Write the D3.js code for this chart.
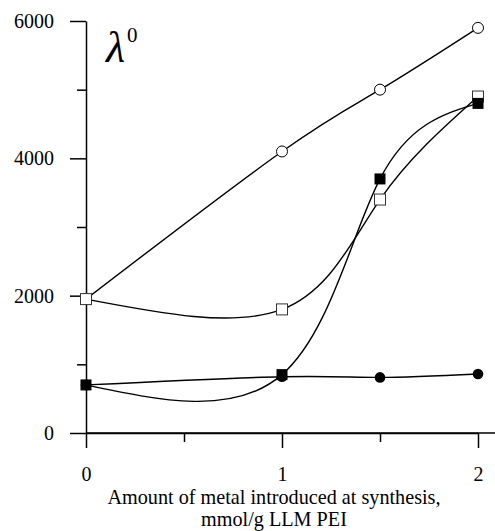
<!DOCTYPE html>
<html>
<head>
<meta charset="utf-8">
<script src="https://cdn.jsdelivr.net/npm/d3@7"></script>
<style>
  html, body { margin: 0; padding: 0; background: #fff; }
  svg { display: block; }
</style>
</head>
<body>
<div id="chart"></div>
<script>
// ---- data ----
const xValues = [0, 1, 1.5, 2];
const openCircles = [1950, 4100, 5000, 5900];
const openSquares = [1950, 1800, 3400, 4900];
const filledSquares = [700, 850, 3700, 4800];
const filledCircles = [700, 820, 810, 860];
const xMajorTicks = [0, 1, 2];
const xMinorTicks = [0.5, 1.5];
const yMajorTicks = [0, 2000, 4000, 6000];
const yMinorTicks = [1000, 3000, 5000];
const xTitle = ["Amount of metal introduced at synthesis,", "mmol/g LLM PEI"];

const W = 495, H = 531;
const FONT = "Liberation Serif";
const svg = d3.select("#chart").append("svg").attr("width", W).attr("height", H)
  .attr("font-family", FONT);

const x = d3.scaleLinear().domain([0, 2]).range([86, 478]);
const y = d3.scaleLinear().domain([0, 6000]).range([433, 21]);

const axisStroke = 1.5;

// y axis
const yAxis = svg.append("g").attr("transform", `translate(${x(0)},0)`)
  .call(d3.axisLeft(y).tickValues(yMajorTicks).tickSize(16).tickSizeOuter(0).tickPadding(16).tickFormat(d3.format("d")));
yAxis.append("g").call(d3.axisLeft(y).tickValues(yMinorTicks).tickSize(9).tickSizeOuter(0).tickFormat(""));
yAxis.selectAll("g g path.domain").remove();

// x axis
const xAxis = svg.append("g").attr("transform", `translate(0,${y(0)})`)
  .call(d3.axisBottom(x).tickValues(xMajorTicks).tickSize(15).tickSizeOuter(0).tickPadding(19).tickFormat(d3.format("d")));
xAxis.append("g").call(d3.axisBottom(x).tickValues(xMinorTicks).tickSize(9).tickSizeOuter(0).tickFormat(""));
xAxis.selectAll("g g path.domain").remove();
xAxis.append("line").attr("class", "ext").attr("x1", x(0)).attr("x2", W).attr("y1", 0).attr("y2", 0);

svg.selectAll("g").attr("font-family", FONT);
svg.selectAll(".domain, .tick line, line.ext").attr("stroke", "#000").attr("stroke-width", axisStroke);
svg.selectAll(".tick text").attr("font-family", FONT).attr("font-size", 20).attr("fill", "#000");

// axis title
xTitle.forEach((t, i) => {
  svg.append("text").attr("x", 274).attr("y", 503.8 + i * 22.6).attr("text-anchor", "middle")
    .attr("font-family", FONT).attr("font-size", 20.2).attr("fill", "#000").text(t);
});

// lambda label
const lab = svg.append("text").attr("x", 106).attr("y", 62)
  .attr("font-family", FONT).attr("fill", "#000");
lab.append("tspan").attr("font-style", "italic").attr("font-size", 44).text("λ");
lab.append("tspan").attr("dy", -20).attr("dx", 2).attr("font-size", 21).text("0");

// lines
const line = d3.line().x(d => x(d[0])).y(d => y(d[1])).curve(d3.curveNatural);
const series = [openCircles, openSquares, filledSquares, filledCircles];
series.forEach(vals => {
  svg.append("path").datum(xValues.map((xv, i) => [xv, vals[i]]))
    .attr("d", line).attr("fill", "none").attr("stroke", "#000").attr("stroke-width", 1.4);
});

// markers
const sq = 11;
svg.selectAll(".oc").data(xValues.map((xv, i) => [xv, openCircles[i]])).join("circle")
  .attr("cx", d => x(d[0])).attr("cy", d => y(d[1])).attr("r", 5.5)
  .attr("fill", "#fff").attr("stroke", "#000").attr("stroke-width", 1);
svg.selectAll(".os").data(xValues.map((xv, i) => [xv, openSquares[i]])).join("rect")
  .attr("x", d => x(d[0]) - sq / 2).attr("y", d => y(d[1]) - sq / 2).attr("width", sq).attr("height", sq)
  .attr("fill", "#fff").attr("stroke", "#333").attr("stroke-width", 1);
svg.selectAll(".fs").data(xValues.map((xv, i) => [xv, filledSquares[i]])).join("rect")
  .attr("x", d => x(d[0]) - sq / 2).attr("y", d => y(d[1]) - sq / 2).attr("width", sq).attr("height", sq)
  .attr("fill", "#000");
svg.selectAll(".fc").data(xValues.map((xv, i) => [xv, filledCircles[i]])).join("circle")
  .attr("cx", d => x(d[0])).attr("cy", d => y(d[1])).attr("r", 5.3)
  .attr("fill", "#000");
</script>
</body>
</html>
